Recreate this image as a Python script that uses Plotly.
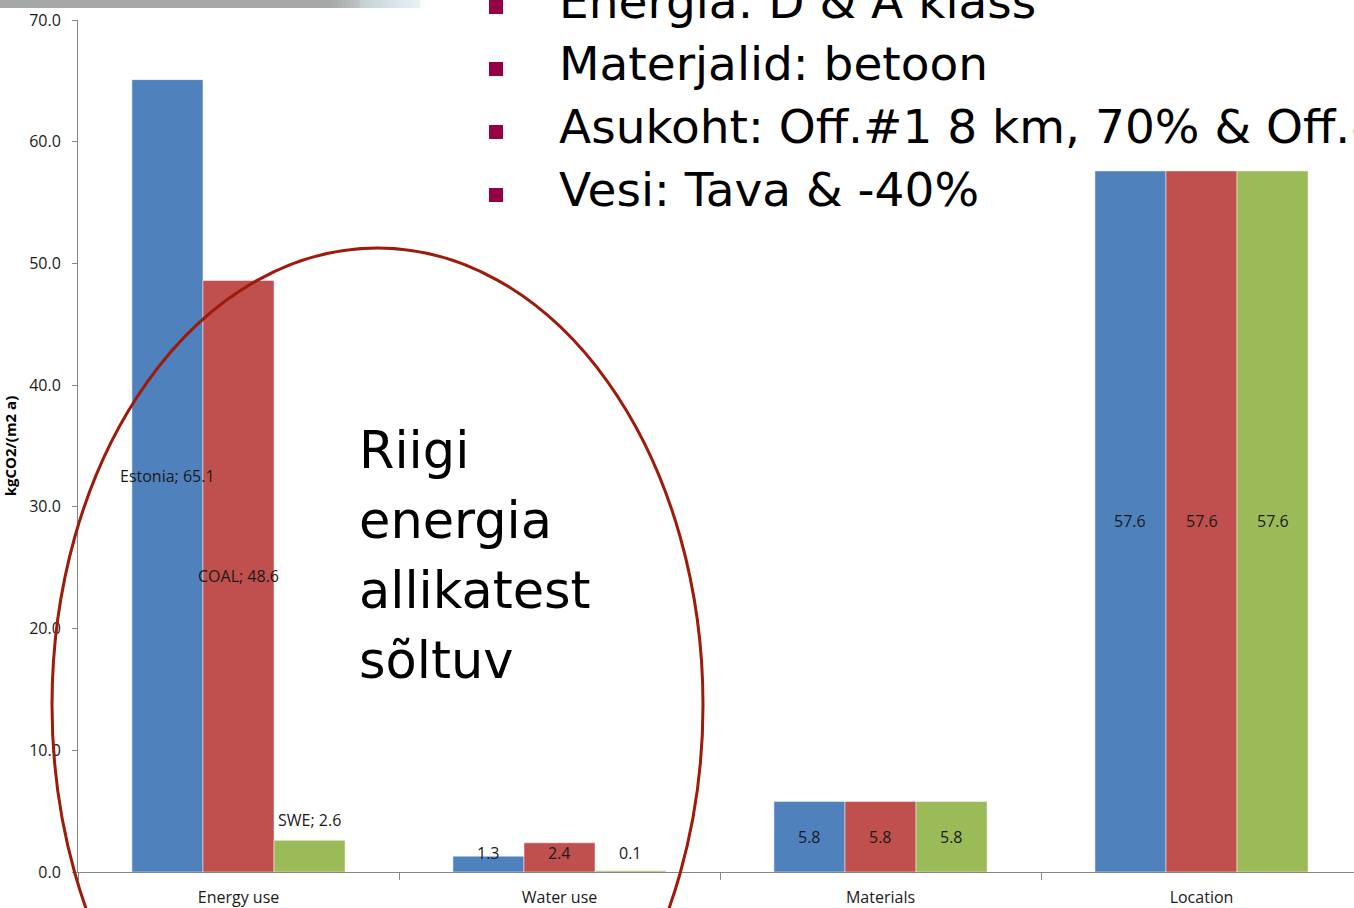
import plotly.graph_objects as go

categories = ["Energy use", "Water use", "Materials", "Location"]
series_names = ["Estonia", "COAL", "SWE"]
estonia = [65.1, 1.3, 5.8, 57.6]
coal = [48.6, 2.4, 5.8, 57.6]
swe = [2.6, 0.1, 5.8, 57.6]
y_ticks = [0, 10, 20, 30, 40, 50, 60, 70]
bullets = ["Energia: D & A klass", "Materjalid: betoon",
           "Asukoht: Off.#1 8 km, 70% & Off.#2", "Vesi: Tava & -40%"]
callout = ["Riigi", "energia", "allikatest", "sõltuv"]

colors = ["#4F81BD", "#C0504D", "#9BBB59"]
values = [estonia, coal, swe]

W, H = 1354, 908
L, R, T, B = 78, 0, 20, 36
pw, ph = W - L - R, H - T - B

fig = go.Figure()
for name, vals, col in zip(series_names, values, colors):
    fig.add_trace(go.Bar(x=categories, y=vals, name=name,
                         marker=dict(color=col, line=dict(color="rgba(255,255,255,0.6)", width=0.8)),
                         showlegend=False, hoverinfo="x+y"))

bargap = 0.336
bw = (1 - bargap) / 3
offsets = [-bw, 0, bw]
small = "Open Sans, Lato, sans-serif"
lab_font = dict(family=small, size=16, color="#1a1a1a")

def ann(ci, si, y, text, yshift=0):
    fig.add_annotation(x=ci + offsets[si], y=y, xref="x", yref="y", text=text,
                       showarrow=False, font=lab_font, yshift=yshift)

# Energy use labels
ann(0, 0, estonia[0] / 2, f"{series_names[0]}; {estonia[0]}")
ann(0, 1, coal[0] / 2, f"{series_names[1]}; {coal[0]}")
ann(0, 2, swe[0], f"{series_names[2]}; {swe[0]}", yshift=20)
# Water use labels
ann(1, 0, estonia[1], f"{estonia[1]}", yshift=3)
ann(1, 1, coal[1], f"{coal[1]}", yshift=-10)
ann(1, 2, swe[1], f"{swe[1]}", yshift=18)
# Materials & Location labels
for ci in (2, 3):
    for si in range(3):
        ann(ci, si, values[si][ci] / 2, f"{values[si][ci]}")

def px_x(px):
    return (px - L) / pw

def px_y(py):
    return (H - B - py) / ph

# top banner (slide decoration)
fig.add_shape(type="rect", xref="paper", yref="paper",
              x0=px_x(0), x1=px_x(330), y0=px_y(8), y1=px_y(-2),
              fillcolor="#A6A8A8", line_width=0, layer="below")
steps = 24
for i in range(steps):
    x0 = 330 + i * 4
    op = max(0.0, 1 - i / steps)
    fig.add_shape(type="rect", xref="paper", yref="paper",
                  x0=px_x(x0), x1=px_x(x0 + 4), y0=px_y(8), y1=px_y(-2),
                  fillcolor=f"rgba(166,170,170,{op:.2f})", line_width=0, layer="below")
fig.add_shape(type="rect", xref="paper", yref="paper",
              x0=px_x(360), x1=px_x(420), y0=px_y(8), y1=px_y(-2),
              fillcolor="rgba(200,232,242,0.35)", line_width=0, layer="below")

# ellipse
fig.add_shape(type="circle", xref="paper", yref="paper",
              x0=px_x(52), x1=px_x(703), y0=px_y(1162), y1=px_y(248),
              line=dict(color="#9E1A0A", width=3), fillcolor="rgba(0,0,0,0)")

# bullets
big = "DejaVu Sans, Liberation Sans, Arial, sans-serif"
big_font = dict(family=big, size=47, color="#000000")
line_y = [1, 63, 126, 189]
for txt, yy in zip(bullets, line_y):
    fig.add_annotation(x=px_x(557), y=px_y(yy), xref="paper", yref="paper",
                       text=txt, showarrow=False, xanchor="left", yanchor="middle",
                       font=big_font)
    fig.add_shape(type="rect", xref="paper", yref="paper",
                  x0=px_x(489), x1=px_x(503), y0=px_y(yy + 13), y1=px_y(yy - 1),
                  fillcolor="#960045", line_width=0)

callout_y = [450, 520, 590, 660]
for txt, yy in zip(callout, callout_y):
    fig.add_annotation(x=px_x(357), y=px_y(yy), xref="paper", yref="paper",
                       text=txt, showarrow=False, xanchor="left",
                       yanchor="middle", align="left",
                       font=dict(family=big, size=51, color="#000000"))

axis_font = dict(family=small, size=16, color="#1a1a1a")
fig.update_layout(
    width=W, height=H,
    margin=dict(l=L, r=R, t=T, b=B, autoexpand=False),
    paper_bgcolor="white", plot_bgcolor="white",
    barmode="group", bargap=bargap, bargroupgap=0,
    xaxis=dict(range=[-0.5, -0.5 + pw / 321.0], showline=True, linecolor="#868686",
               linewidth=1, ticks="outside", tickson="boundaries", ticklen=7,
               tickcolor="#868686", tickfont=axis_font, showgrid=False,
               zeroline=False, fixedrange=True, ticklabelstandoff=11),
    yaxis=dict(range=[0, 70], tickvals=y_ticks, tickformat=".1f", showline=True,
               linecolor="#868686", linewidth=1, ticks="outside", ticklen=5,
               tickcolor="#868686", tickfont=axis_font, showgrid=False,
               zeroline=False, ticklabelstandoff=8,
               title=dict(text="<b>kgCO2/(m2 a)</b>", standoff=8,
                          font=dict(family=small, size=15, color="#000000"))),
)

fig.write_html("out.html", config={"displayModeBar": False},
               post_script="document.body.style.margin='0';")
